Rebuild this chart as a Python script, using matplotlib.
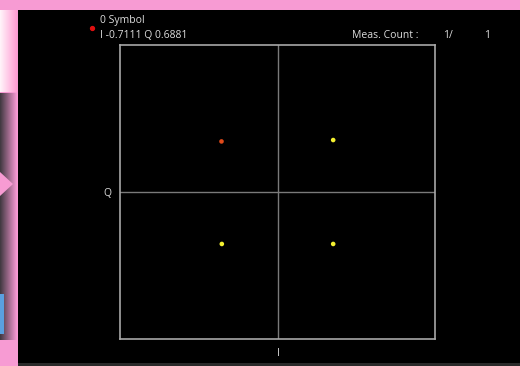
import numpy as np
import matplotlib
matplotlib.use("Agg")
import matplotlib.pyplot as plt

plt.rcParams['font.family'] = ['Open Sans', 'DejaVu Sans']

# QPSK constellation, symbol 0 is the marked one
sym_i = [-0.7111, 0.707, -0.707, 0.707]
sym_q = [0.6881, 0.707, -0.707, -0.707]
sym_colors = ['#e04a1a', '#f4f030', '#f4f030', '#f4f030']
marker_text = ["0 Symbol", "I -0.7111 Q 0.6881"]
meas_count = (1, 1)

W, H = 520, 366
fig = plt.figure(figsize=(W / 100, H / 100), dpi=100)
fig.patch.set_facecolor('black')

# window frame: pink top band and left strip
pink = '#f79bd3'
bg = fig.add_axes([0, 0, 1, 1])
bg.set_xlim(0, W)
bg.set_ylim(H, 0)
bg.axis('off')
bg.add_patch(plt.Rectangle((0, 0), W, 10, color=pink, lw=0))
bg.add_patch(plt.Rectangle((0, 0), 18, H, color=pink, lw=0))
# faded panels of the window behind
g = np.linspace(0, 1, 50)[None, :]
bg.imshow(np.dstack([np.ones_like(g), 0.96 - 0.35 * g, 0.98 - 0.15 * g]),
          extent=(0, 17, 92, 10), aspect='auto', zorder=2)
dark = np.dstack([0.25 + 0.72 * g, 0.22 + 0.38 * g, 0.25 + 0.58 * g])
bg.imshow(dark, extent=(0, 17, 340, 93), aspect='auto', zorder=2)
bg.add_patch(plt.Polygon([[0, 172], [13, 184], [0, 196]], color=pink, lw=0, zorder=3))
bg.add_patch(plt.Rectangle((0, 294), 4, 40, color='#5aa0e0', lw=0, zorder=3))
bg.add_patch(plt.Rectangle((18, 363), W - 18, 3, color='#2a2a2a', lw=0))

ax = fig.add_axes([120 / W, 1 - 339 / H, 315 / W, 294 / H])
ax.set_facecolor('black')
ax.set_xlim(-2, 2)
ax.set_ylim(-2, 2)
for s in ax.spines.values():
    s.set_color('#a8a8a8')
    s.set_linewidth(1.2)
ax.axhline(0, color='#7a7a7a', lw=1)
ax.axvline(0, color='#7a7a7a', lw=1)
ax.set_xticks([])
ax.set_yticks([])
ax.scatter(sym_i, sym_q, s=11, c=sym_colors, zorder=3, linewidths=0)

txt = dict(color='#dcdcdc', fontsize=7.5)
bg.plot([92], [28], 'o', color='#e01010', ms=2.8)
bg.text(100, 21, marker_text[0], va='center', ha='left', **txt)
bg.text(100, 36, marker_text[1], va='center', ha='left', **txt)
bg.text(419, 36, "Meas. Count :", va='center', ha='right', **txt)
bg.text(453, 36, f"{meas_count[0]}/", va='center', ha='right', **txt)
bg.text(490, 36, f"{meas_count[1]}", va='center', ha='right', **txt)
bg.text(107, 193, "Q", va='center', ha='center', **txt)
bg.text(278, 354, "I", va='center', ha='center', **txt)

fig.savefig('out.png', dpi=100, facecolor=fig.get_facecolor())
